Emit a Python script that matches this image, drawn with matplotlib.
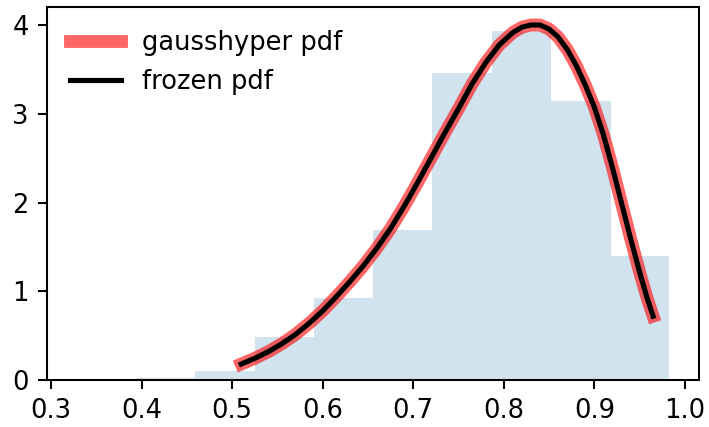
import matplotlib
matplotlib.use("Agg")
import matplotlib.pyplot as plt
import numpy as np

# histogram of samples (density)
bin_edges = [0.328, 0.394, 0.459, 0.525, 0.590, 0.656, 0.721, 0.787, 0.852, 0.918, 0.983]
bin_heights = [0.0, 0.02, 0.107, 0.491, 0.92, 1.69, 3.466, 3.94, 3.144, 1.396]

# pdf curve points (x, density)
pdf_x = [0.51, 0.525, 0.54, 0.555, 0.57, 0.585, 0.60, 0.615, 0.63, 0.645,
         0.66, 0.675, 0.69, 0.705, 0.72, 0.735, 0.75, 0.765, 0.78, 0.795,
         0.81, 0.82, 0.83, 0.84, 0.85, 0.86, 0.87, 0.88, 0.89, 0.90,
         0.91, 0.92, 0.93, 0.94, 0.95, 0.9585, 0.965]
pdf_y = [0.18, 0.245, 0.32, 0.41, 0.515, 0.64, 0.78, 0.94, 1.11, 1.29,
         1.49, 1.71, 1.96, 2.23, 2.51, 2.79, 3.06, 3.34, 3.58, 3.78,
         3.92, 3.98, 4.005, 4.005, 3.96, 3.87, 3.73, 3.55, 3.33, 3.08,
         2.77, 2.40, 2.00, 1.60, 1.22, 0.92, 0.72]

dpi = 185
fig, ax = plt.subplots(figsize=(709 / dpi, 427 / dpi), dpi=dpi)
fig.subplots_adjust(left=0.066, right=0.986, top=0.983, bottom=0.11)

ax.plot(pdf_x, pdf_y, 'r-', lw=5, alpha=0.6, label='gausshyper pdf')
ax.plot(pdf_x, pdf_y, 'k-', lw=2, label='frozen pdf')
ax.hist(bin_edges[:-1], bins=bin_edges, weights=bin_heights,
        histtype='stepfilled', alpha=0.2)
ax.legend(loc='best', frameon=False)

fig.savefig("out.png", dpi=dpi)
